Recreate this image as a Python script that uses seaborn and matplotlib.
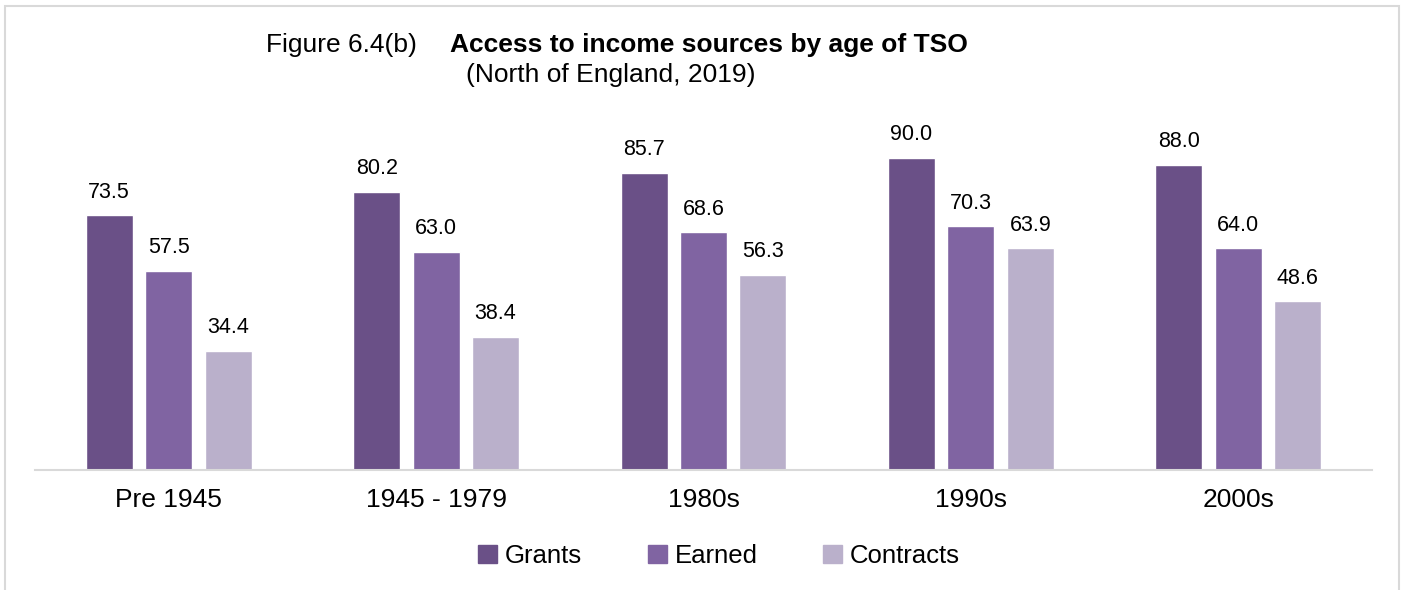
import matplotlib
matplotlib.use("Agg")
import matplotlib.pyplot as plt
import matplotlib.patches as mpatches
import pandas as pd
import seaborn as sns

# Data
ages = ["Pre 1945", "1945 - 1979", "1980s", "1990s", "2000s"]
sources = ["Grants", "Earned", "Contracts"]
grants = [73.5, 80.2, 85.7, 90.0, 88.0]
earned = [57.5, 63.0, 68.6, 70.3, 64.0]
contracts = [34.4, 38.4, 56.3, 63.9, 48.6]
colors = ["#6A5087", "#8064A2", "#BAB0CB"]

df = pd.DataFrame({
    "age": ages * 3,
    "source": ["Grants"] * 5 + ["Earned"] * 5 + ["Contracts"] * 5,
    "value": grants + earned + contracts,
})

sns.set_style("white")
plt.rcParams["font.family"] = ["Liberation Sans", "DejaVu Sans"]
plt.rcParams["text.color"] = "black"
plt.rcParams["xtick.color"] = "black"

fig = plt.figure(figsize=(14.02, 5.90), dpi=100)
ax = fig.add_axes([35 / 1402, 120 / 590, 1337 / 1402, 360 / 590])

sns.barplot(data=df, x="age", y="value", hue="source", order=ages,
            hue_order=sources, palette=colors, width=0.667, gap=0.21,
            saturation=1, ax=ax)

for container in ax.containers:
    ax.bar_label(container, fmt="%.1f", padding=9, fontsize=15.5, color="black")

ax.set_ylim(0, 103.8)
ax.set_xlim(-0.5, 4.5)
ax.set_xlabel("")
ax.set_ylabel("")
ax.set_yticks([])
ax.tick_params(axis="x", length=0, pad=13, labelsize=19, labelcolor="black")
for side in ["top", "left", "right"]:
    ax.spines[side].set_visible(False)
ax.spines["bottom"].set_color("#D9D9D9")
ax.spines["bottom"].set_linewidth(1.5)

ax.get_legend().remove()
handles = [mpatches.Patch(color=c, label=s) for c, s in zip(colors, sources)]
fig.legend(handles=handles, loc="center", bbox_to_anchor=(719 / 1402, 1 - 556 / 590),
           ncol=3, frameon=False, fontsize=18.5, handlelength=0.75,
           handleheight=0.75, handletextpad=0.3, columnspacing=2.55,
           labelcolor="black")

# Titles
fig.text(266 / 1402, 1 - 45 / 590, "Figure 6.4(b)", fontsize=19, va="center", ha="left")
fig.text(450 / 1402, 1 - 45 / 590, "Access to income sources by age of TSO",
         fontsize=19, fontweight="bold", va="center", ha="left")
fig.text(466 / 1402, 1 - 75 / 590, "(North of England, 2019)", fontsize=19,
         va="center", ha="left")

# Outer border
border = mpatches.Rectangle((5 / 1402, -0.1), 1394 / 1402, 1.1 - 6 / 590,
                            transform=fig.transFigure, fill=False,
                            edgecolor="#D9D9D9", linewidth=1.5)
fig.patches.append(border)

fig.savefig("out.png", dpi=100)
